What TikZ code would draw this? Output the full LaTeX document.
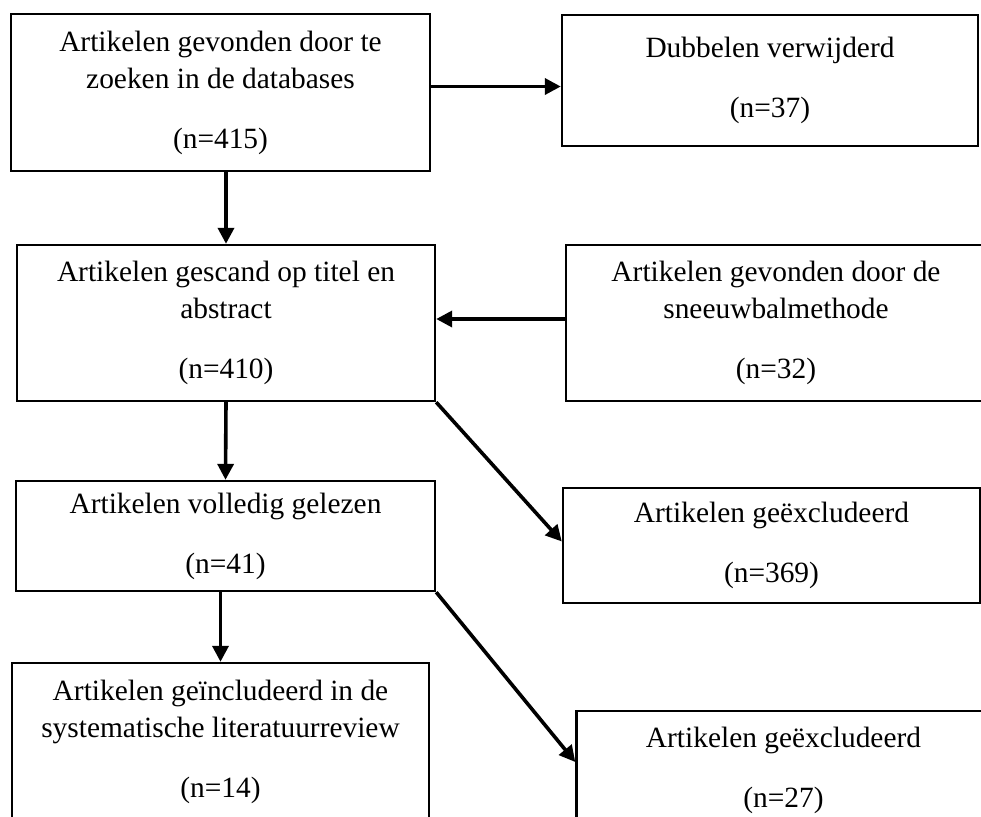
\documentclass[tikz,border=0pt]{standalone}
\usepackage{fontspec}
\setmainfont{Liberation Serif}
\usetikzlibrary{arrows.meta}

\begin{document}
\begin{tikzpicture}[x=0.5pt,y=-0.5pt,
	box/.style={draw,line width=1.2pt,align=center,inner sep=0pt,font=\fontsize{14.7}{18.5}\selectfont},
	arr/.style={-{Triangle[length=8pt,width=8pt]},line width=1.8pt}]
	\useasboundingbox (0,0) rectangle (981,816);
	\node[box,minimum width=209.5pt,minimum height=78.5pt] (dbase) at (220.5,92.5){Artikelen gevonden door te\\zoeken in de databases\\[11.5pt](n=415)};
	\node[box,minimum width=208pt,minimum height=65.5pt] (dubbel) at (770,80.5){Dubbelen verwijderd\\[11.5pt](n=37)};
	\node[box,minimum width=209pt,minimum height=78pt] (scan) at (226,323){Artikelen gescand op titel en\\abstract\\[11.5pt](n=410)};
	\node[box,minimum width=210pt,minimum height=78pt] (sneeuw) at (776,323){Artikelen gevonden door de\\sneeuwbalmethode\\[11.5pt](n=32)};
	\node[box,minimum width=209.5pt,minimum height=55pt] (gelezen) at (225.5,536){Artikelen volledig gelezen\\[11.5pt](n=41)};
	\node[box,minimum width=208.5pt,minimum height=57.5pt] (excl1) at (771.5,545.5){Artikelen ge\"excludeerd\\[11.5pt](n=369)};
	\node[box,minimum width=208.5pt,minimum height=79pt] (incl) at (220.5,742){Artikelen ge\"includeerd in de\\systematische literatuurreview\\[11.5pt](n=14)};
	\node[box,minimum width=207pt,minimum height=59pt] (excl2) at (783.5,770){Artikelen ge\"excludeerd\\[11.5pt](n=27)};
	\draw[arr] ([yshift=3pt]dbase.east) -- ([yshift=3pt]dbase.east -| dubbel.west);
	\draw[arr] (scan.north |- dbase.south) -- (scan.north);
	\draw[arr] ([yshift=2pt]sneeuw.west) -- ([yshift=2pt]sneeuw.west -| scan.east);
	\draw[arr] (scan.south) -- (gelezen.north);
	\draw[arr] (scan.south east) -- ([yshift=2pt]excl1.west);
	\draw[arr] (incl.north |- gelezen.south) -- (incl.north);
	\draw[arr] (gelezen.south east) -- ([yshift=4pt]excl2.west);
\end{tikzpicture}
\end{document}
